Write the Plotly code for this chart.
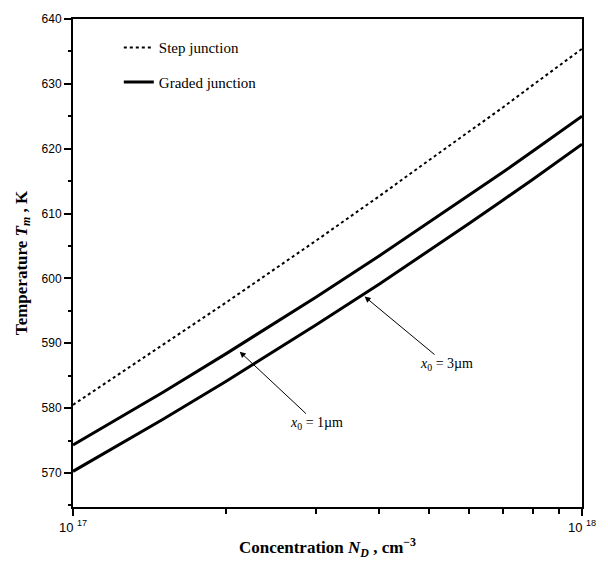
import math
import plotly.graph_objects as go

# Donor concentration N_D (cm^-3)
conc = [1e17, 1.5e17, 2e17, 3e17, 4e17, 5e17, 6e17, 7e17, 8e17, 1e18]
# Temperature T_m (K)
step_T = [580.5, 589.7, 596.3, 605.8, 612.7, 618.2, 622.6, 626.4, 629.8, 635.4]
graded_1um = [574.3, 582.4, 588.4, 597.1, 603.5, 608.6, 612.8, 616.4, 619.6, 625.0]
graded_3um = [570.25, 578.25, 584.15, 592.8, 599.15, 604.2, 608.45, 612.1, 615.25, 620.7]

# Arrow targets (N_D, T) for the x0 labels
label_1um = (2.126e17, 588.7)
label_3um = (3.74e17, 597.2)

x_tickvals = [1e17, 1e18]
x_ticktext = ["10 <sup>17</sup>", "10 <sup>18</sup>"]
x_minor = [2e17, 3e17, 4e17, 5e17, 6e17, 7e17, 8e17, 9e17]
y_tickvals = [570, 580, 590, 600, 610, 620, 630, 640]

serif = "Liberation Serif"
sans = "Liberation Sans"

fig = go.Figure()
fig.add_trace(go.Scatter(x=conc, y=step_T, mode="lines", name="Step junction",
                         legendgroup="a",
                         line=dict(color="black", width=2, dash="dot")))
fig.add_trace(go.Scatter(x=conc, y=graded_1um, mode="lines", name="Graded junction",
                         legendgroup="b",
                         line=dict(color="black", width=3)))
fig.add_trace(go.Scatter(x=conc, y=graded_3um, mode="lines", name="Graded junction",
                         legendgroup="b", showlegend=False,
                         line=dict(color="black", width=3)))

fig.add_annotation(x=math.log10(label_1um[0]), y=label_1um[1], xref="x", yref="y",
                   text="<i>x</i><sub>0</sub> = 1µm", showarrow=True,
                   arrowhead=2, arrowsize=1.2, arrowwidth=1, arrowcolor="black",
                   ax=77, ay=72, font=dict(family=serif, size=14, color="black"))
fig.add_annotation(x=math.log10(label_3um[0]), y=label_3um[1], xref="x", yref="y",
                   text="<i>x</i><sub>0</sub> = 3µm", showarrow=True,
                   arrowhead=2, arrowsize=1.2, arrowwidth=1, arrowcolor="black",
                   ax=82, ay=68, font=dict(family=serif, size=14, color="black"))

fig.update_xaxes(type="log", range=[17, 18],
                 tickvals=x_tickvals, ticktext=x_ticktext,
                 ticks="outside", ticklen=7, tickwidth=2, tickcolor="black",
                 minor=dict(tickvals=x_minor, ticks="outside", ticklen=5,
                            tickwidth=2, tickcolor="black", showgrid=False),
                 showline=True, linecolor="black", linewidth=2, mirror=True,
                 showgrid=False, zeroline=False,
                 tickfont=dict(family=sans, size=13, color="black"),
                 title=dict(text="<b>Concentration <i>N<sub>D</sub></i> , cm<sup>−3</sup></b>",
                            font=dict(family=serif, size=17, color="black"),
                            standoff=8))
fig.update_yaxes(range=[564.75, 640], tickvals=y_tickvals,
                 ticks="outside", ticklen=7, tickwidth=2, tickcolor="black",
                 minor=dict(dtick=5, ticks="outside", ticklen=3,
                            tickwidth=2, tickcolor="black", showgrid=False),
                 showline=True, linecolor="black", linewidth=2, mirror=True,
                 showgrid=False, zeroline=False,
                 tickfont=dict(family=sans, size=12, color="black"),
                 title=dict(text="<b>Temperature <i>T<sub>m</sub></i> , K</b>",
                            font=dict(family=serif, size=17, color="black"),
                            standoff=10))

fig.update_layout(
    width=608, height=566,
    margin=dict(l=73, r=25, t=15, b=50),
    paper_bgcolor="white", plot_bgcolor="white",
    showlegend=True,
    legend=dict(x=0.09, y=0.975, xanchor="left", yanchor="top",
                bgcolor="rgba(0,0,0,0)", borderwidth=0,
                tracegroupgap=12, traceorder="grouped",
                font=dict(family=serif, size=15, color="black")),
)

fig.write_html("out.html")
